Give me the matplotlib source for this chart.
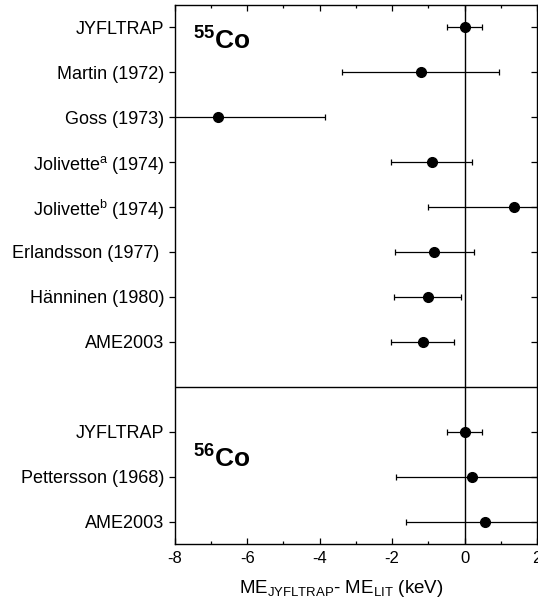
import matplotlib
matplotlib.use('Agg')
import matplotlib.pyplot as plt
from matplotlib.ticker import MultipleLocator

plt.rcParams['font.family'] = ['Liberation Sans', 'DejaVu Sans']
plt.rcParams['mathtext.fontset'] = 'custom'
plt.rcParams['mathtext.rm'] = 'Liberation Sans'
plt.rcParams['mathtext.bf'] = 'Liberation Sans:bold'
plt.rcParams['mathtext.it'] = 'Liberation Sans:italic'
plt.rcParams['axes.unicode_minus'] = False

# 55Co data (rows 0..7)
labels_co55 = ['JYFLTRAP', 'Martin (1972)', 'Goss (1973)', r'Jolivette$^{\mathrm{a}}$ (1974)',
               r'Jolivette$^{\mathrm{b}}$ (1974)', 'Erlandsson (1977) ', 'Hänninen (1980)', 'AME2003']
diff_co55 = [0.0, -1.21, -6.81, -0.91, 1.36, -0.83, -1.02, -1.15]
err_co55 = [0.48, 2.17, 2.95, 1.13, 2.37, 1.10, 0.93, 0.87]

# 56Co data (rows 9..11)
labels_co56 = ['JYFLTRAP', 'Pettersson (1968)', 'AME2003']
diff_co56 = [0.0, 0.20, 0.57]
err_co56 = [0.47, 2.10, 2.19]

rows_co55 = list(range(8))
sep_row = 8
rows_co56 = [9, 10, 11]

fig = plt.figure(figsize=(5.38, 6.14), dpi=100)
ax = fig.add_axes([0.325, 0.114, 0.673, 0.878])

ekw = dict(fmt='o', color='black', markersize=7, capsize=2.5, elinewidth=0.9, capthick=0.9, zorder=3)
ax.errorbar(diff_co55, rows_co55, xerr=err_co55, **ekw)
ax.errorbar(diff_co56, rows_co56, xerr=err_co56, **ekw)

ax.axvline(0, color='black', linewidth=1.0, zorder=2)
ax.axhline(sep_row, color='black', linewidth=1.0, zorder=2)

ax.set_xlim(-8, 2)
ax.set_ylim(11.5, -0.5)

ax.set_yticks(rows_co55 + rows_co56)
ax.set_yticklabels(labels_co55 + labels_co56, fontsize=13)
ax.tick_params(axis='y', which='major', direction='out', length=4.5, width=0.9, left=True, right=False, pad=3)

# right-side inward ticks
ax_r = ax.secondary_yaxis('right')
ax_r.set_yticks(rows_co55 + rows_co56)
ax_r.set_yticklabels([])
ax_r.tick_params(axis='y', direction='in', length=4.5, width=0.9)
ax_r.spines['right'].set_visible(False)

ax.xaxis.set_major_locator(MultipleLocator(2))
ax.xaxis.set_minor_locator(MultipleLocator(1))
ax.tick_params(axis='x', which='major', direction='in', length=4.5, width=0.9, top=True, labelsize=12, pad=5)
ax.tick_params(axis='x', which='minor', direction='in', length=2.5, width=0.9, top=True)

for s in ax.spines.values():
    s.set_linewidth(1.0)

ax.set_xlabel(r'ME$_{\mathrm{JYFLTRAP}}$- ME$_{\mathrm{LIT}}$ (keV)', fontsize=13.5)
ax.xaxis.set_label_coords(0.459, -0.063)

ax.text(-7.5, 0.3, r'$\mathbf{^{55}Co}$', fontsize=19, ha='left', va='center')
ax.text(-7.5, 9.6, r'$\mathbf{^{56}Co}$', fontsize=19, ha='left', va='center')

fig.savefig('out.png', dpi=100)
